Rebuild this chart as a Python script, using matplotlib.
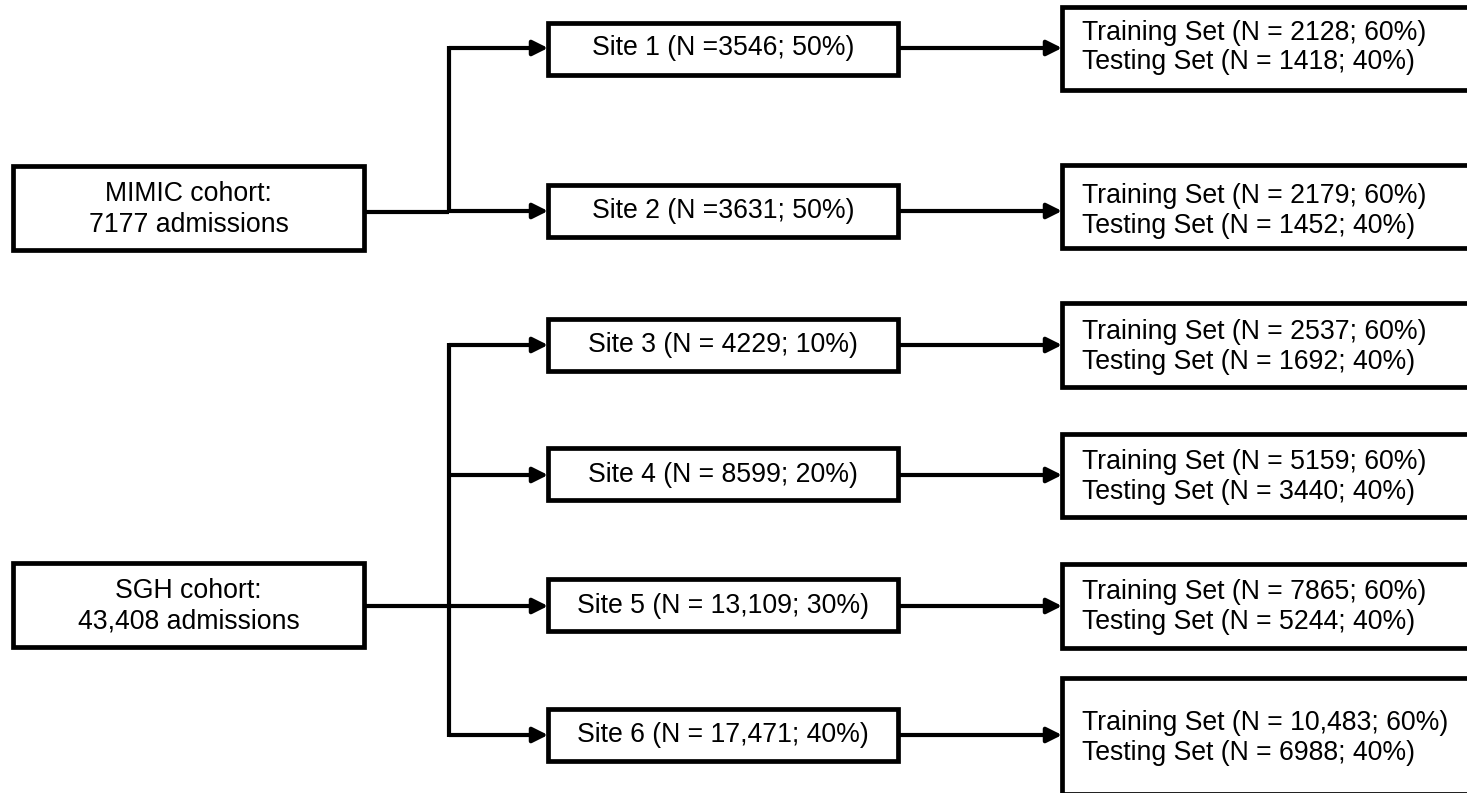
import matplotlib
matplotlib.use("Agg")
import matplotlib.pyplot as plt
from matplotlib.patches import Rectangle

# ---- content ----
cohort_lines = [["MIMIC cohort:", "7177 admissions"],
                ["SGH cohort:", "43,408 admissions"]]
site_labels = ["Site 1 (N =3546; 50%)", "Site 2 (N =3631; 50%)",
               "Site 3 (N = 4229; 10%)", "Site 4 (N = 8599; 20%)",
               "Site 5 (N = 13,109; 30%)", "Site 6 (N = 17,471; 40%)"]
train_labels = ["Training Set (N = 2128; 60%)", "Training Set (N = 2179; 60%)",
                "Training Set (N = 2537; 60%)", "Training Set (N = 5159; 60%)",
                "Training Set (N = 7865; 60%)", "Training Set (N = 10,483; 60%)"]
test_labels = ["Testing Set (N = 1418; 40%)", "Testing Set (N = 1452; 40%)",
               "Testing Set (N = 1692; 40%)", "Testing Set (N = 3440; 40%)",
               "Testing Set (N = 5244; 40%)", "Testing Set (N = 6988; 40%)"]
site_cohort = [0, 0, 1, 1, 1, 1]

# ---- layout (pixel units, y downward) ----
W, H = 1467, 793
cohort_x = (13, 364)
cohort_y = [(166, 250), (563, 647)]
cohort_link_y = [212, 606]
branch_x = 449
site_x = (548, 898)
site_y = [(23, 75), (185, 237), (319, 371), (448, 500), (579, 631), (709, 761)]
arrow_y = [48, 211, 345, 475, 606, 735]
split_x0 = 1062
split_y = [(7, 90), (165, 248), (303, 387), (434, 517), (564, 648), (678, 794)]
split_text_y = [(33, 62), (196, 226), (332, 362), (462, 492), (592, 622), (723, 753)]

FONT = "Liberation Sans"
FS = 19.2
LW_BOX = 3.4
LW_LINE = 3.0

fig = plt.figure(figsize=(W / 100, H / 100), dpi=100)
ax = fig.add_axes([0, 0, 1, 1])
ax.set_xlim(0, W)
ax.set_ylim(H, 0)
ax.axis("off")

def box(x0, x1, y0, y1):
    ax.add_patch(Rectangle((x0, y0), x1 - x0, y1 - y0, fill=True, facecolor="white",
                           edgecolor="black", lw=LW_BOX, joinstyle="miter", zorder=3))

def hline(x0, x1, y):
    ax.plot([x0, x1], [y, y], color="black", lw=LW_LINE, solid_capstyle="butt", zorder=2)

def arrow(x0, x1, y):
    # shaft as a plain line, head as a filled arrow
    hline(x0, x1 - 8, y)
    ax.annotate("", xy=(x1, y), xytext=(x1 - 14, y),
                arrowprops=dict(arrowstyle="-|>,head_length=0.6,head_width=0.3",
                                mutation_scale=15, lw=LW_LINE, color="black",
                                shrinkA=0, shrinkB=0), zorder=2)

# cohort boxes
for i, lines in enumerate(cohort_lines):
    y0, y1 = cohort_y[i]
    box(cohort_x[0], cohort_x[1], y0, y1)
    cx = (cohort_x[0] + cohort_x[1]) / 2
    cy = (y0 + y1) / 2
    ax.text(cx, cy - 14, lines[0], ha="center", va="center", fontsize=FS, family=FONT, zorder=4)
    ax.text(cx, cy + 17, lines[1], ha="center", va="center", fontsize=FS, family=FONT, zorder=4)
    hline(cohort_x[1], branch_x, cohort_link_y[i])

# vertical branch lines
for c in range(len(cohort_lines)):
    ys = [arrow_y[k] for k in range(len(site_labels)) if site_cohort[k] == c]
    ax.plot([branch_x, branch_x], [min(ys) - 2, max(ys) + 2], color="black",
            lw=LW_LINE, solid_capstyle="butt", zorder=2)

# sites and splits
for k, lab in enumerate(site_labels):
    y0, y1 = site_y[k]
    arrow(branch_x, site_x[0], arrow_y[k])
    box(site_x[0], site_x[1], y0, y1)
    ax.text((site_x[0] + site_x[1]) / 2, arrow_y[k], lab, ha="center", va="center",
            fontsize=FS, family=FONT, zorder=4)
    arrow(site_x[1], split_x0, arrow_y[k])
    sy0, sy1 = split_y[k]
    box(split_x0, W + 30, sy0, sy1)
    t0, t1 = split_text_y[k]
    ax.text(split_x0 + 20, t0, train_labels[k], ha="left", va="center",
            fontsize=FS, family=FONT, zorder=4)
    ax.text(split_x0 + 20, t1, test_labels[k], ha="left", va="center",
            fontsize=FS, family=FONT, zorder=4)

fig.savefig("out.png", dpi=100, facecolor="white")
